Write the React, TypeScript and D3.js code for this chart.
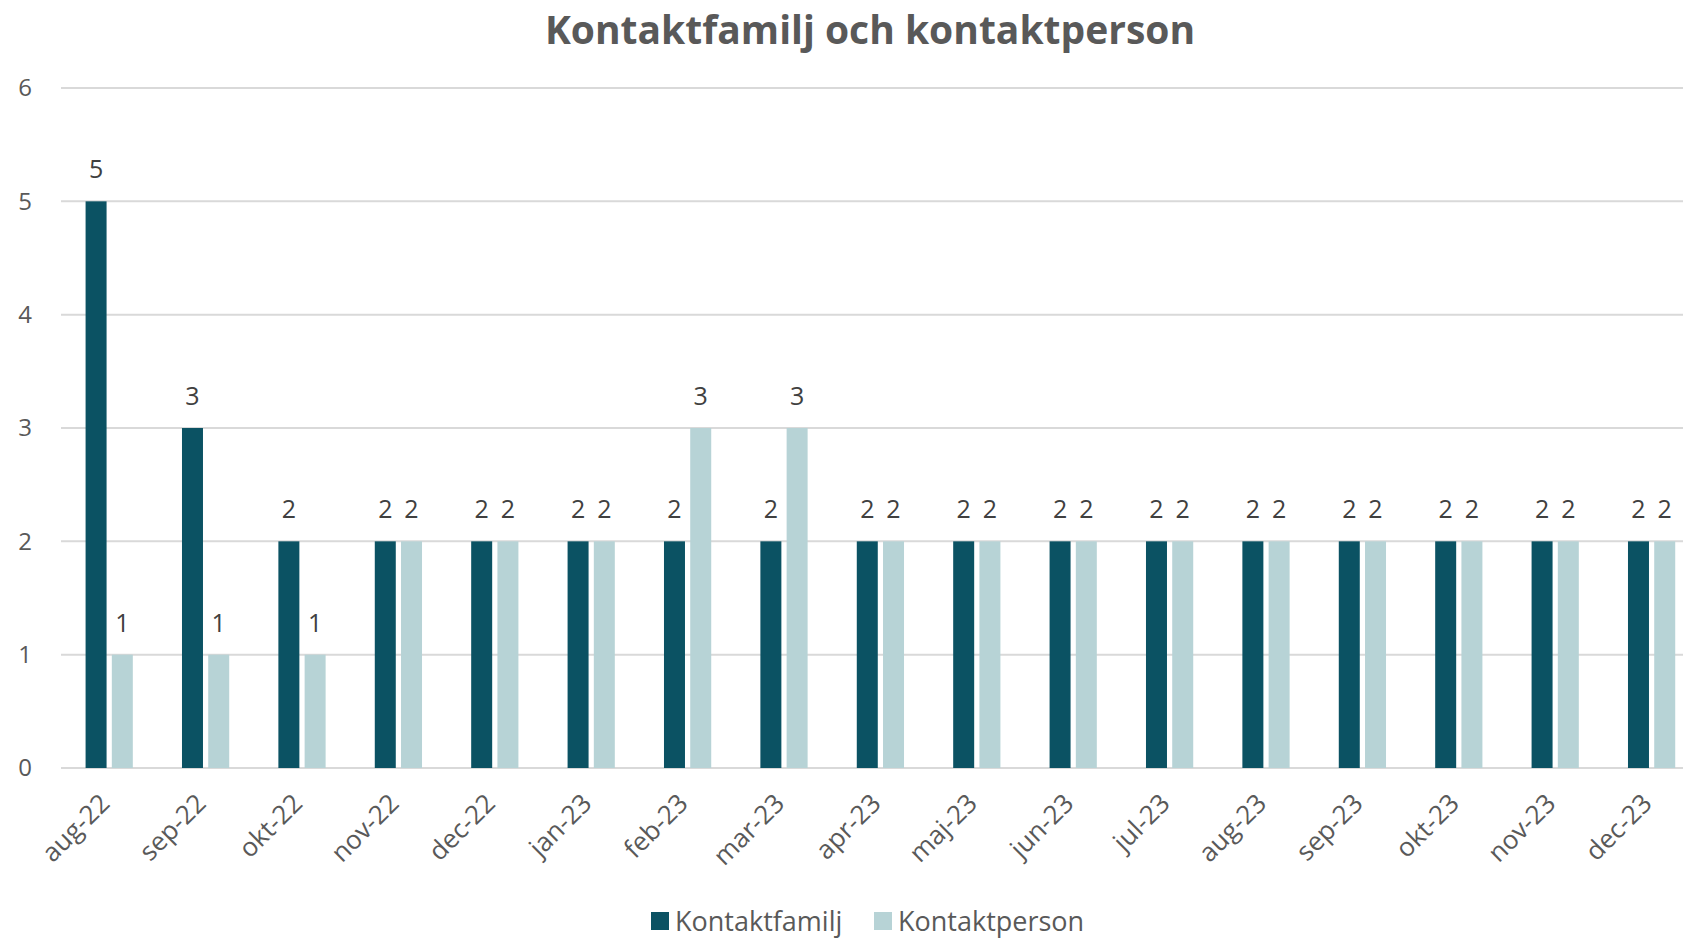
import React from "react";
import * as d3 from "d3";

const months = [
  "aug-22", "sep-22", "okt-22", "nov-22", "dec-22", "jan-23", "feb-23", "mar-23", "apr-23",
  "maj-23", "jun-23", "jul-23", "aug-23", "sep-23", "okt-23", "nov-23", "dec-23",
];
const kontaktfamilj = [5, 3, 2, 2, 2, 2, 2, 2, 2, 2, 2, 2, 2, 2, 2, 2, 2];
const kontaktperson = [1, 1, 1, 2, 2, 2, 3, 3, 2, 2, 2, 2, 2, 2, 2, 2, 2];
const seriesNames = ["Kontaktfamilj", "Kontaktperson"];
const seriesColors = ["#0b5263", "#b7d3d6"];
const yTicks = [0, 1, 2, 3, 4, 5, 6];

const W = 1683;
const H = 940;
const FONT = "'Open Sans', sans-serif";

const App = () => {
  const left = 61;
  const step = 96.4;
  const x0 = d3
    .scaleBand<string>()
    .domain(months)
    .range([left, left + months.length * step])
    .paddingInner(0.51)
    .paddingOuter(0.255);
  const x1 = d3
    .scaleBand<string>()
    .domain(seriesNames)
    .range([0, x0.bandwidth()])
    .paddingInner(0.2);
  const y = d3.scaleLinear().domain([0, 6]).range([768, 88]);
  const values = [kontaktfamilj, kontaktperson];

  return (
    <svg
      width={W}
      height={H}
      style={{ position: "absolute", left: 0, top: 0, background: "#fff" }}
      fontFamily={FONT}
    >
      <text x={870} y={44} textAnchor="middle" fontSize={39} fontWeight="bold" fill="#595959">
        Kontaktfamilj och kontaktperson
      </text>

      {yTicks.map((t) => (
        <g key={t}>
          <line x1={left} x2={W} y1={y(t)} y2={y(t)} stroke="#d9d9d9" strokeWidth={2} />
          <text x={25} y={y(t)} dy="0.35em" textAnchor="middle" fontSize={24} fill="#595959">
            {t}
          </text>
        </g>
      ))}

      {months.map((m, i) => (
        <g key={m} transform={`translate(${x0(m)},0)`}>
          {seriesNames.map((s, j) => {
            const v = values[j][i];
            const bx = x1(s)!;
            return (
              <g key={s}>
                <rect
                  x={bx}
                  y={y(v)}
                  width={x1.bandwidth()}
                  height={y(0) - y(v)}
                  fill={seriesColors[j]}
                />
                <text
                  x={bx + x1.bandwidth() / 2}
                  y={y(v) - 23}
                  textAnchor="middle"
                  fontSize={25}
                  fill="#404040"
                >
                  {v}
                </text>
              </g>
            );
          })}
        </g>
      ))}

      {months.map((m) => {
        const cx = x0(m)! + x0.bandwidth() / 2;
        return (
          <text
            key={m}
            transform={`translate(${cx + 2},${805}) rotate(-45)`}
            textAnchor="end"
            fontSize={26}
            fill="#595959"
          >
            {m}
          </text>
        );
      })}

      <g>
        <rect x={651} y={912} width={18} height={18} fill={seriesColors[0]} />
        <text x={675} y={931} fontSize={27} fill="#595959">
          {seriesNames[0]}
        </text>
        <rect x={874} y={912} width={18} height={18} fill={seriesColors[1]} />
        <text x={898} y={931} fontSize={27} fill="#595959">
          {seriesNames[1]}
        </text>
      </g>
    </svg>
  );
};

export default App;
